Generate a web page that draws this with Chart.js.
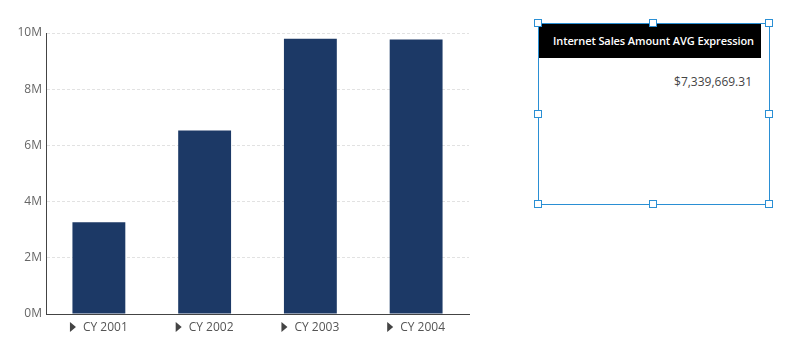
<!DOCTYPE html>
<html><head><meta charset="utf-8">
<script src="https://cdn.jsdelivr.net/npm/chart.js@4"></script>
<style>
html,body{margin:0;padding:0;background:#fff;width:791px;height:356px;overflow:hidden;font-family:"Open Sans",sans-serif;}
#wrap{position:absolute;left:0;top:0;width:480px;height:356px;}
#card{position:absolute;left:538px;top:23px;width:230px;height:180px;border:1px solid #2a8fd4;box-sizing:content-box;}
#hdr{position:absolute;left:0;top:0;width:222px;height:34px;background:#000;color:#fff;font-size:11px;font-weight:600;line-height:34px;box-sizing:border-box;}
#hdr span{position:absolute;right:7px;top:0;white-space:nowrap;letter-spacing:-0.1px;}
#val{position:absolute;right:17px;top:49px;font-size:12px;color:#444;white-space:nowrap;}
.h{position:absolute;width:6px;height:6px;background:#fff;border:1px solid #2a8fd4;}
</style></head>
<body>
<div id="wrap"><canvas id="c" width="480" height="356"></canvas></div>
<div id="card">
  <div id="hdr"><span id="title"></span></div>
  <div id="val"></div>
</div>
<div class="h" style="left:534px;top:19px"></div>
<div class="h" style="left:649px;top:19px"></div>
<div class="h" style="left:765px;top:19px"></div>
<div class="h" style="left:534px;top:110px"></div>
<div class="h" style="left:765px;top:110px"></div>
<div class="h" style="left:534px;top:200px"></div>
<div class="h" style="left:649px;top:200px"></div>
<div class="h" style="left:765px;top:200px"></div>
<script>
const categories = ["CY 2001", "CY 2002", "CY 2003", "CY 2004"];
const salesValues = [3266373.66, 6530343.53, 9791060.30, 9770899.74];
const yTickValues = [0, 2000000, 4000000, 6000000, 8000000, 10000000];
const cardTitle = "Internet Sales Amount AVG Expression";

const avg = salesValues.reduce((a,b)=>a+b,0)/salesValues.length;
document.getElementById('title').textContent = cardTitle;
document.getElementById('val').textContent = '$' + avg.toLocaleString('en-US',{minimumFractionDigits:2,maximumFractionDigits:2});

const FONT = '"Open Sans", sans-serif';

const xLabelPlugin = {
  id: 'xLabels',
  afterDraw(chart) {
    const ctx = chart.ctx;
    const xs = chart.scales.x;
    ctx.save();
    ctx.font = '12px ' + FONT;
    ctx.textBaseline = 'middle';
    ctx.textAlign = 'left';
    const y = chart.chartArea.bottom + 13;
    categories.forEach((lab, i) => {
      const cx = xs.getPixelForTick(i);
      const tw = ctx.measureText(lab).width;
      const total = 6 + 7 + tw;
      const left = cx - total/2;
      ctx.fillStyle = '#444';
      ctx.beginPath();
      ctx.moveTo(left, y - 5);
      ctx.lineTo(left + 6, y);
      ctx.lineTo(left, y + 5);
      ctx.closePath();
      ctx.fill();
      ctx.fillStyle = '#555';
      ctx.fillText(lab, left + 13, y + 1);
    });
    ctx.restore();
  }
};

new Chart(document.getElementById('c'), {
  type: 'bar',
  data: {
    labels: categories,
    datasets: [{
      data: salesValues,
      backgroundColor: '#1c3966',
      barPercentage: 0.5,
      categoryPercentage: 1.0
    }]
  },
  options: {
    responsive: false,
    animation: false,
    layout: { padding: { left: 0, top: 33, right: 11, bottom: 0 } },
    plugins: { legend: { display: false }, tooltip: { enabled: false } },
    scales: {
      x: {
        grid: { display: false, drawTicks: false },
        border: { display: true, color: '#444', width: 1 },
        ticks: { color: 'rgba(0,0,0,0)', font: { size: 12, family: FONT } },
        afterFit(s) { s.height = 42; }
      },
      y: {
        min: 0, max: 10000000,
        afterBuildTicks(s) { s.ticks = yTickValues.map(v => ({ value: v })); },
        grid: { color: '#e2e2e2', drawTicks: false, tickLength: 0 },
        border: { display: true, color: '#444', width: 1, dash: [3, 2] },
        ticks: {
          color: '#666', padding: 4,
          font: { size: 12, family: FONT },
          callback: v => (v / 1000000) + 'M'
        },
        afterFit(s) { s.width = 46; }
      }
    }
  },
  plugins: [xLabelPlugin]
});
</script>
</body></html>
